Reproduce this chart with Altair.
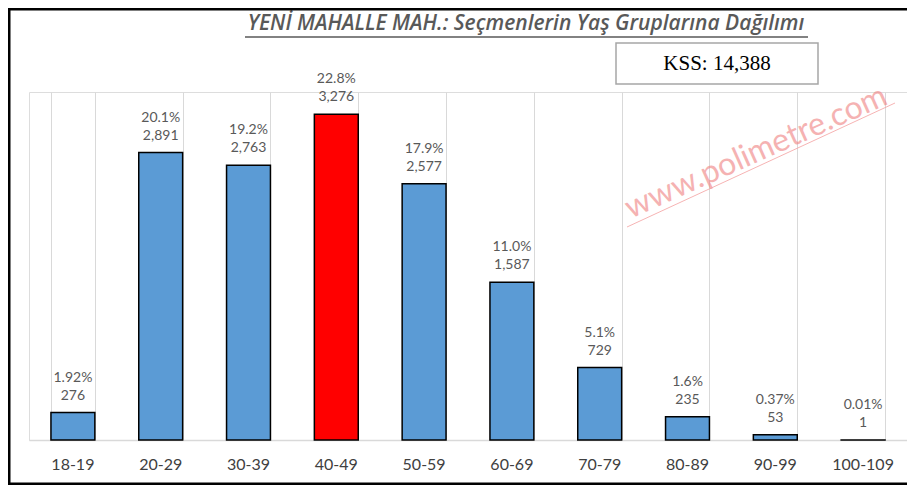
import altair as alt
import pandas as pd

age_groups = ["18-19", "20-29", "30-39", "40-49", "50-59", "60-69", "70-79", "80-89", "90-99", "100-109"]
voters = [276, 2891, 2763, 3276, 2577, 1587, 729, 235, 53, 1]
count_labels = ["276", "2,891", "2,763", "3,276", "2,577", "1,587", "729", "235", "53", "1"]
pct_labels = ["1.92%", "20.1%", "19.2%", "22.8%", "17.9%", "11.0%", "5.1%", "1.6%", "0.37%", "0.01%"]
highlight = "40-49"
title_text = "YENİ MAHALLE MAH.: Seçmenlerin Yaş Gruplarına Dağılımı"
kss_text = "KSS: 14,388"
watermark = "www.polimetre.com"

df = pd.DataFrame({"age": age_groups, "voters": voters, "cnt": count_labels, "pct": pct_labels})

W, H = 878, 348
FONT = "Lato"

xs = alt.Scale(paddingInner=0.5, paddingOuter=0.25)
x = alt.X("age:N", sort=age_groups, title=None, scale=xs,
          axis=alt.Axis(labels=False, ticks=False, grid=True, tickBand="extent",
                        gridColor="#d9d9d9", gridWidth=1, domainColor="#d9d9d9", domainWidth=1.5))
xn = alt.X("age:N", sort=age_groups)
y = alt.Y("voters:Q", scale=alt.Scale(domain=[0, 3500]), axis=None)

base = alt.Chart(df)

bars = base.mark_bar(stroke="black", strokeWidth=1.5).encode(
    x=x, y=y,
    color=alt.condition(alt.datum.age == highlight, alt.value("#FF0000"), alt.value("#5B9BD5")),
)
cnt = base.mark_text(font=FONT, fontSize=14, color="#595959", baseline="middle", dy=-17).encode(
    x=xn, y="voters:Q", text="cnt:N")
pct = base.mark_text(font=FONT, fontSize=14, color="#595959", baseline="middle", dy=-35).encode(
    x=xn, y="voters:Q", text="pct:N")
xlabels = base.mark_text(font=FONT, fontSize=16, color="#404040", baseline="middle").encode(
    x=xn, y=alt.value(H + 25), text="age:N")

one = alt.Data(values=[{}])

title = alt.Chart(one).mark_text(text=title_text, font="Open Sans", fontSize=21, fontStyle="italic",
                                 fontWeight=600, color="#595959", align="center", baseline="middle").encode(
    x=alt.value(497), y=alt.value(-68))
underline = alt.Chart(one).mark_rule(color="#595959", strokeWidth=1.3).encode(
    x=alt.value(216), x2=alt.value(779), y=alt.value(-55))

kss_box = alt.Chart(one).mark_rect(filled=False, stroke="#a6a6a6", strokeWidth=1.5).encode(
    x=alt.value(587), x2=alt.value(789), y=alt.value(-49), y2=alt.value(-8))
kss = alt.Chart(one).mark_text(text=kss_text, font="Liberation Serif", fontSize=21, color="black",
                               align="center", baseline="middle").encode(
    x=alt.value(688), y=alt.value(-28))

wm = alt.Chart(one).mark_text(text=watermark, font=FONT, fontSize=32, color="#F08080", opacity=0.6,
                              angle=336, align="center", baseline="middle").encode(
    x=alt.value(727), y=alt.value(60))
wm_line = alt.Chart(one).mark_rule(color="#F4A0A0", strokeWidth=1, opacity=0.8).encode(
    x=alt.value(598), y=alt.value(135), x2=alt.value(866), y2=alt.value(11))

border = alt.Chart(one).mark_rect(filled=False, stroke="black", strokeWidth=2.5).encode(
    x=alt.value(-19.75), x2=alt.value(920), y=alt.value(-82.75), y2=alt.value(391.75))

chart = alt.layer(bars, cnt, pct, xlabels, title, underline, kss_box, kss, wm, wm_line, border).properties(
    width=W, height=H,
    padding={"left": 21, "top": 84, "right": 0, "bottom": 45},
    autosize=alt.AutoSizeParams(type="none"),
).configure_view(stroke=None).configure(background="white")

chart.save("out.html", embed_options={"renderer": "svg", "actions": False})
